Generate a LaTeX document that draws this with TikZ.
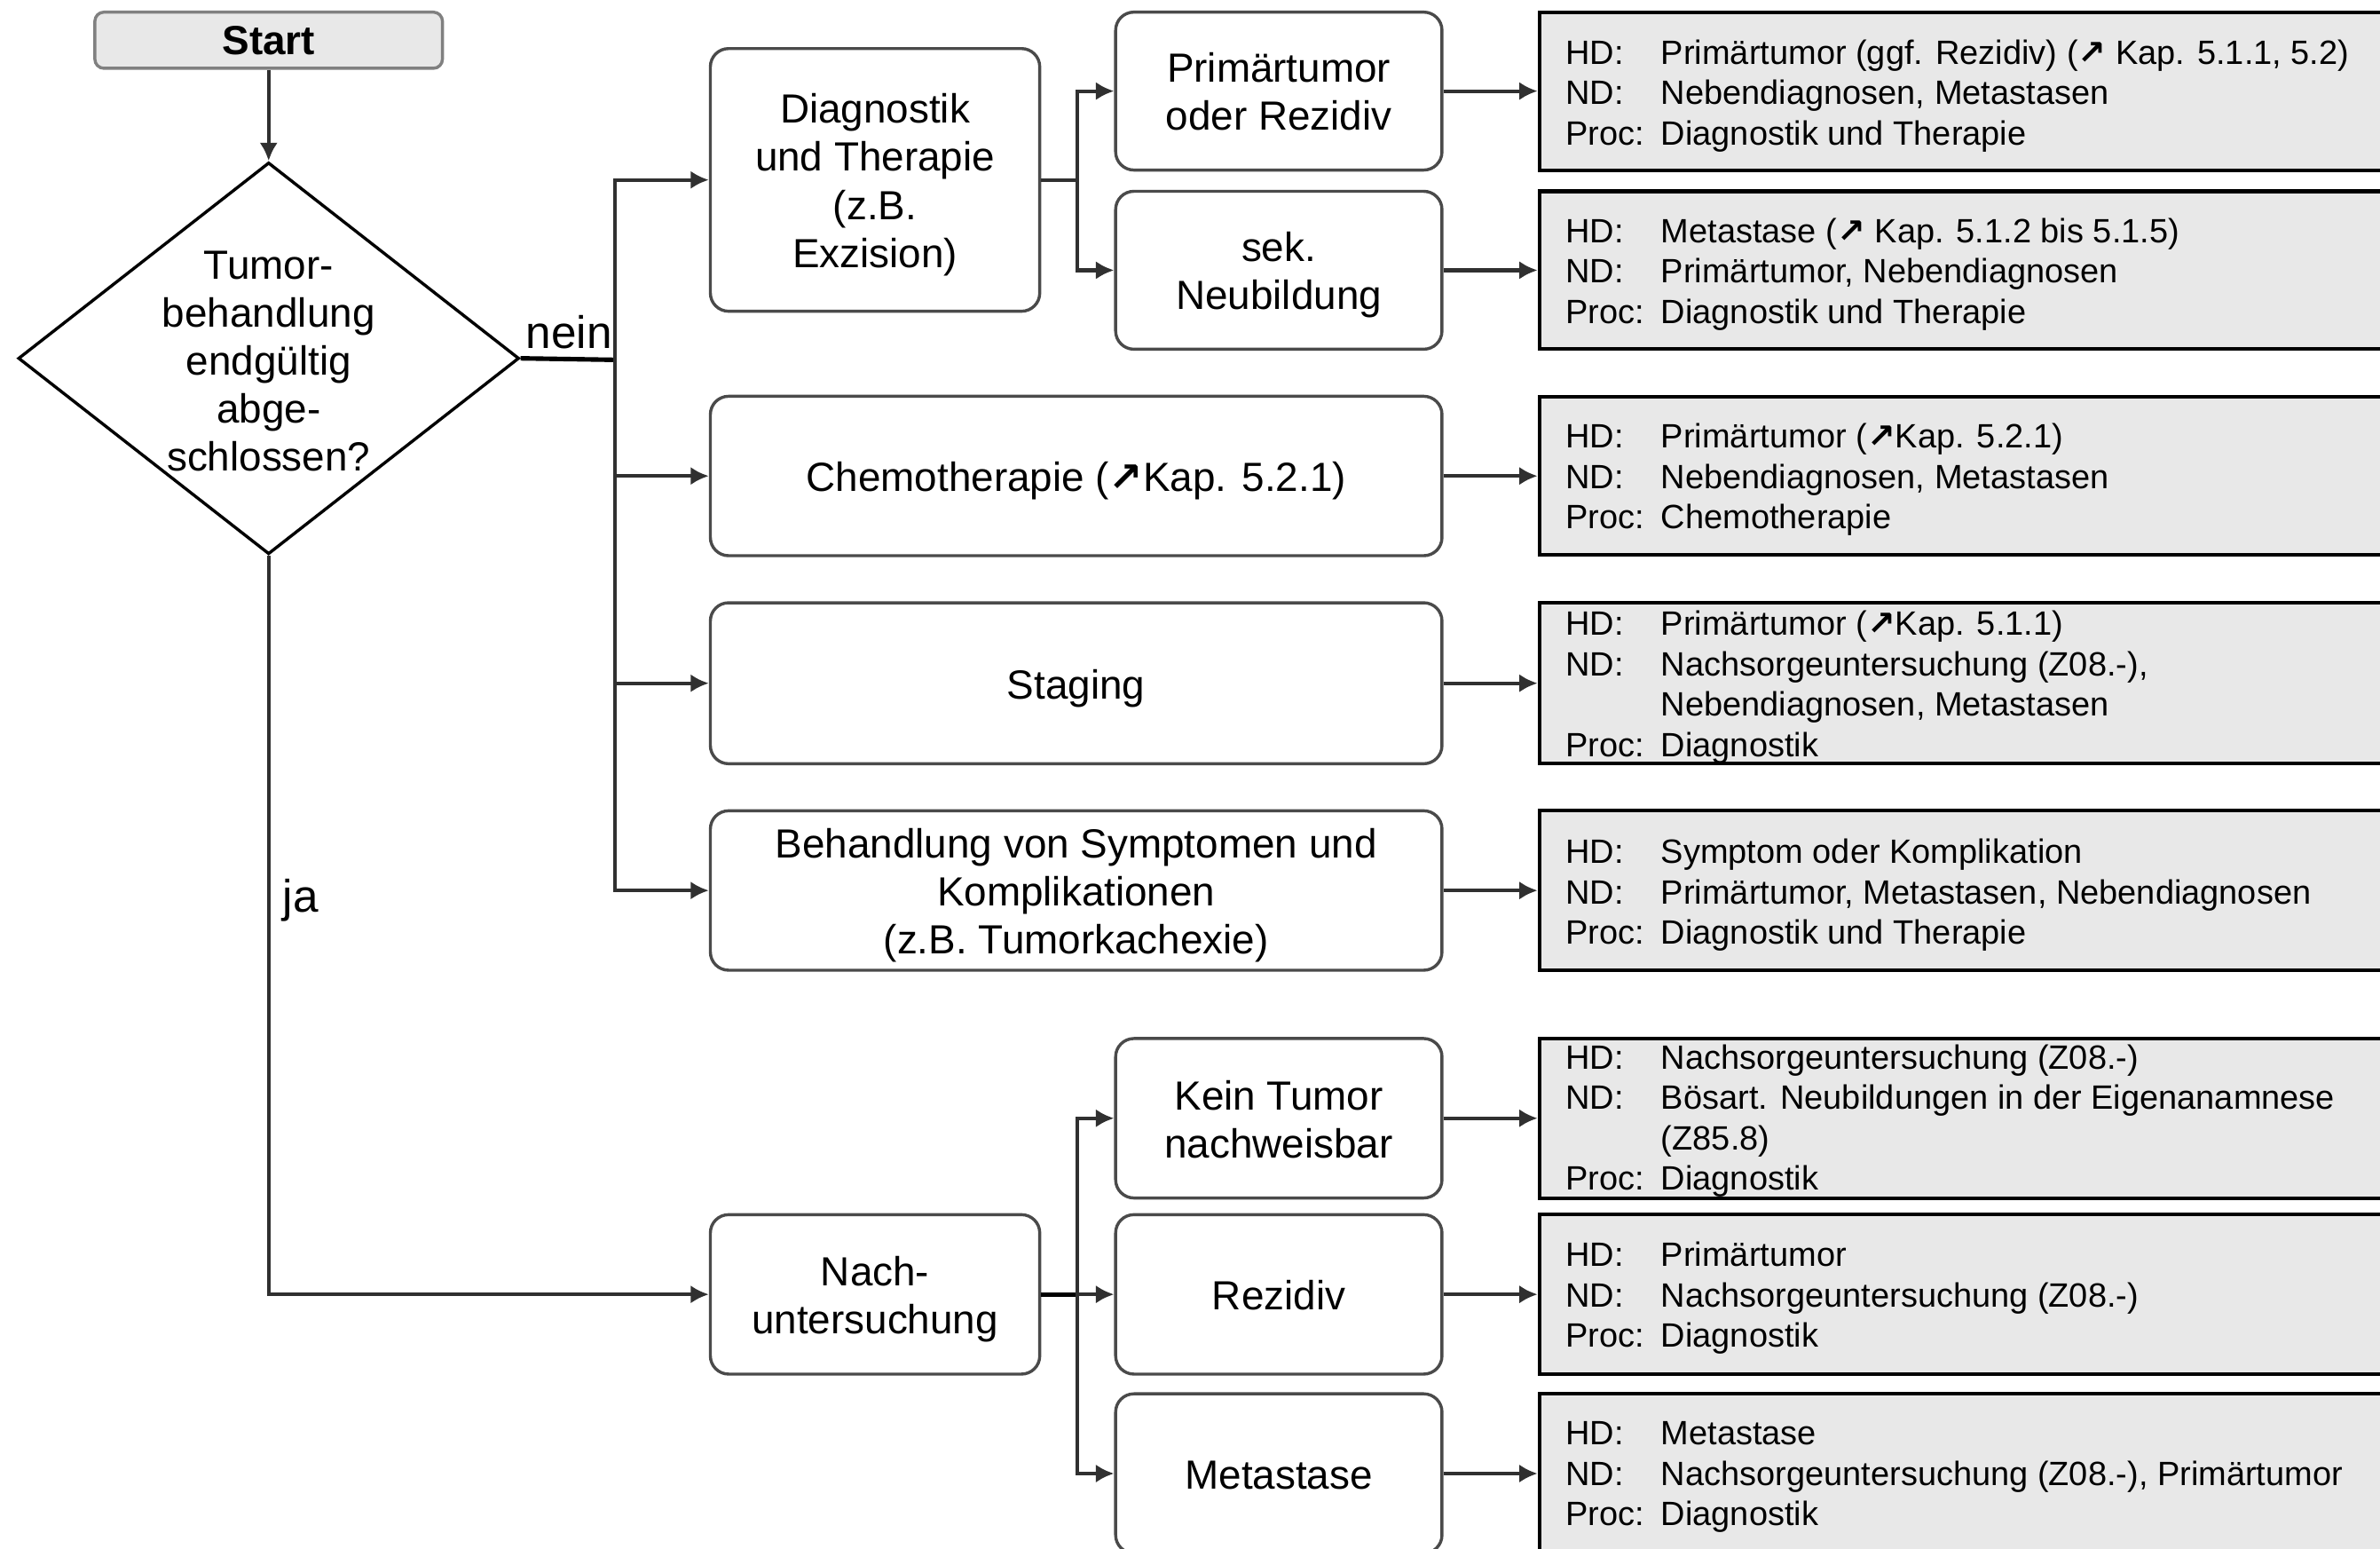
\documentclass[tikz,border=0pt]{standalone}
\usepackage{fontspec}
\setmainfont{Liberation Sans}
\newfontfamily\symf{DejaVu Sans}
\usetikzlibrary{shapes.geometric,arrows.meta}
\definecolor{infogray}{HTML}{E8E8E8}
\definecolor{boxgray}{HTML}{4A4A4A}
\definecolor{linegray}{HTML}{303030}
\newcommand{\nearr}{{\symf\bfseries\char"2197}}
\newcommand{\mainfs}{\fontsize{13.4}{15.8}\selectfont}
\newcommand{\infofs}{\fontsize{11.1}{13.3}\selectfont}
\newcommand{\infotab}[1]{\begin{tabular}{@{}p{31.5pt}@{}l@{}}#1\end{tabular}}
\newcommand{\mt}[1]{\raisebox{-1.9pt}[\height][\depth]{\begin{tabular}{@{}c@{}}#1\end{tabular}}}
\begin{document}
\begin{tikzpicture}[x=0.5pt,y=-0.5pt,
  mbox/.style={draw=boxgray, line width=1pt, rounded corners=6pt, fill=white,
    align=center, inner sep=0pt, font=\mainfs},
  infobox/.style={draw=black, line width=1.2pt, fill=infogray, anchor=west,
    minimum width=300pt, minimum height=52pt, inner sep=0pt},
  infotext/.style={anchor=west, inner sep=0pt, font=\infofs, align=left},
  conn/.style={draw=linegray, line width=1.2pt},
  arr/.style={conn, -{Latex[length=6pt,width=6pt]}},
  lbl/.style={inner sep=0pt, font=\fontsize{15}{18}\selectfont}
]
\useasboundingbox (0,0) rectangle (1568,1020);
\clip (0,0) rectangle (1568,1020);

% start and decision
\node[draw=gray, line width=1pt, fill=infogray, rounded corners=3pt,
  minimum width=114.5pt, minimum height=18.5pt, inner sep=0pt,
  font=\fontsize{13.4}{15.8}\selectfont\bfseries] (start) at (177,26.5) {Start};
\node[diamond, draw=black, line width=1pt, minimum width=165pt, minimum height=129pt,
  inner sep=0pt] (dia) at (177,236) {};
\node[align=center, inner sep=0pt, font=\mainfs] (diat) at (177,238)
  {Tumor-\\behandlung\\endgültig\\abge-\\schlossen?};

% main boxes
\node[mbox, minimum width=108.5pt, minimum height=86.5pt] (diag) at (576.5,118.5)
  {\mt{Diagnostik\\und Therapie\\(z.B.\\Exzision)}};
\node[mbox, minimum width=107.5pt, minimum height=52pt] (prim) at (842.5,60)
  {\mt{Primärtumor\\oder Rezidiv}};
\node[mbox, minimum width=107.5pt, minimum height=52pt] (sek) at (842.5,178)
  {\mt{sek.\\Neubildung}};
\node[mbox, minimum width=241pt, minimum height=52.5pt] (chemo) at (709,313.5)
  {\mt{Chemotherapie (\nearr Kap. 5.2.1)}};
\node[mbox, minimum width=241pt, minimum height=53pt] (stag) at (709,450)
  {\mt{Staging}};
\node[mbox, minimum width=241pt, minimum height=52.5pt] (behand) at (709,586.5)
  {\mt{Behandlung von Symptomen und\\Komplikationen\\(z.B. Tumorkachexie)}};
\node[mbox, minimum width=108.5pt, minimum height=52.5pt] (nach) at (576.5,852.5)
  {\mt{Nach-\\untersuchung}};
\node[mbox, minimum width=107.5pt, minimum height=52.5pt] (kein) at (842.5,736.5)
  {\mt{Kein Tumor\\nachweisbar}};
\node[mbox, minimum width=107.5pt, minimum height=52.5pt] (rez) at (842.5,852.5)
  {\mt{Rezidiv}};
\node[mbox, minimum width=107.5pt, minimum height=52.5pt] (met) at (842.5,970.5)
  {\mt{Metastase}};

% info boxes
\node[infobox] (i1) at (1013,60) {};
\node[infobox] (i2) at (1013,178) {};
\node[infobox] (i3) at (1013,313.5) {};
\node[infobox, minimum height=53pt] (i4) at (1013,450) {};
\node[infobox, minimum height=52.5pt] (i5) at (1013,586.5) {};
\node[infobox, minimum height=52.5pt] (i6) at (1013,736.5) {};
\node[infobox, minimum height=52.5pt] (i7) at (1013,852.5) {};
\node[infobox, minimum height=52.5pt] (i8) at (1013,970.5) {};

\node[infotext] (t1) at (1031,63.5) {\infotab{HD: & Primärtumor (ggf. Rezidiv) (\nearr{} Kap. 5.1.1, 5.2)\\
  ND: & Nebendiagnosen, Metastasen\\ Proc: & Diagnostik und Therapie}};
\node[infotext] (t2) at (1031,181) {\infotab{HD: & Metastase (\nearr{} Kap. 5.1.2 bis 5.1.5)\\
  ND: & Primärtumor, Nebendiagnosen\\ Proc: & Diagnostik und Therapie}};
\node[infotext] (t3) at (1031,316.5) {\infotab{HD: & Primärtumor (\nearr Kap. 5.2.1)\\
  ND: & Nebendiagnosen, Metastasen\\ Proc: & Chemotherapie}};
\node[infotext] (t4) at (1031,453) {\infotab{HD: & Primärtumor (\nearr Kap. 5.1.1)\\
  ND: & Nachsorgeuntersuchung (Z08.-),\\ & Nebendiagnosen, Metastasen\\ Proc: & Diagnostik}};
\node[infotext] (t5) at (1031,590) {\infotab{HD: & Symptom oder Komplikation\\
  ND: & Primärtumor, Metastasen, Nebendiagnosen\\ Proc: & Diagnostik und Therapie}};
\node[infotext] (t6) at (1031,738.5) {\infotab{HD: & Nachsorgeuntersuchung (Z08.-)\\
  ND: & Bösart. Neubildungen in der Eigenanamnese\\ & (Z85.8)\\ Proc: & Diagnostik}};
\node[infotext] (t7) at (1031,855.5) {\infotab{HD: & Primärtumor\\
  ND: & Nachsorgeuntersuchung (Z08.-)\\ Proc: & Diagnostik}};
\node[infotext] (t8) at (1031,973) {\infotab{HD: & Metastase\\
  ND: & Nachsorgeuntersuchung (Z08.-), Primärtumor\\ Proc: & Diagnostik}};

% labels
\node[lbl] (nein) at (375,219) {nein};
\node[lbl] (ja) at (198,593) {ja};

% connectors
\coordinate (br) at (405,237);
\coordinate (ds) at (710,118.5);
\coordinate (ns) at (710,852.5);
\draw[arr] (start.south) -- (dia.north);
\draw[conn, line width=1.5pt, draw=black] (dia.east) -- (br);
\draw[arr] (br) |- (diag.west);
\draw[arr] (br) |- (chemo.west);
\draw[arr] (br) |- (stag.west);
\draw[arr] (br) |- (behand.west);
\draw[conn] (diag.east) -- (ds);
\draw[arr] (ds) |- (prim.west);
\draw[arr] (ds) |- (sek.west);
\draw[arr] (dia.south) |- (nach.west);
\draw[conn, line width=1.5pt, draw=black] (nach.east) -- (ns);
\draw[arr] (ns) |- (kein.west);
\draw[arr] (ns) |- (rez.west);
\draw[arr] (ns) |- (met.west);
\draw[arr] (prim.east) -- (i1.west);
\draw[arr] (sek.east) -- (i2.west);
\draw[arr] (chemo.east) -- (i3.west);
\draw[arr] (stag.east) -- (i4.west);
\draw[arr] (behand.east) -- (i5.west);
\draw[arr] (kein.east) -- (i6.west);
\draw[arr] (rez.east) -- (i7.west);
\draw[arr] (met.east) -- (i8.west);
\end{tikzpicture}
\end{document}
